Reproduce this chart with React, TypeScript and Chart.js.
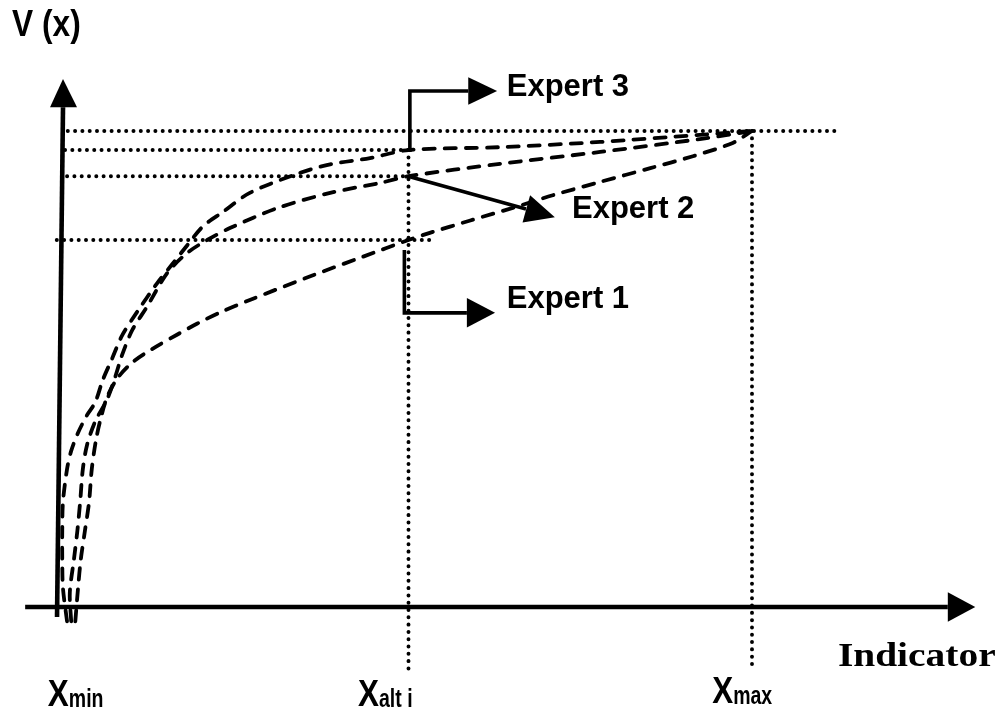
import React, { useEffect, useRef } from "react";
import { Chart, registerables } from "chart.js";

Chart.register(...registerables);

// Indicator scale: Xmin = 0, Xalt i = 50, Xmax = 100.  Value V(x): 0 on the indicator axis, 1 at the top level.
const tickValues = [0, 50, 100];
const tickMain = ["X", "X", "X"];
const tickSub = ["min", "alt i", "max"];

const expertNames = ["Expert 1", "Expert 2", "Expert 3"];

const expert1X = [1.5, 1.9, 2.3, 2.9, 3.5, 3.9, 4.5, 5.1, 6.1, 7.6, 9.9, 12.8, 16.3, 19.2, 22.6, 26.9, 36.1, 43.4, 50, 53.1, 59.0, 66.2, 71.0, 77.9, 85.2, 91.4, 97.2, 100];
const expert1V = [-0.03, 0.04, 0.1, 0.16, 0.22, 0.29, 0.35, 0.39, 0.44, 0.48, 0.515, 0.543, 0.572, 0.595, 0.619, 0.645, 0.697, 0.736, 0.771, 0.786, 0.812, 0.843, 0.865, 0.893, 0.922, 0.947, 0.975, 1.0];

const expert2X = [0.9, 0.7, 1.3, 1.8, 2.2, 2.6, 3.2, 4.4, 6.1, 7.3, 8.3, 9.8, 11.9, 14.9, 17.8, 20.7, 24.0, 30.9, 38.6, 45.9, 50, 63.3, 77.9, 92.4, 100];
const expert2V = [-0.03, 0.03, 0.1, 0.16, 0.22, 0.29, 0.34, 0.39, 0.435, 0.483, 0.529, 0.582, 0.63, 0.702, 0.744, 0.771, 0.796, 0.838, 0.87, 0.891, 0.905, 0.931, 0.956, 0.983, 1.0];

const expert3X = [0.3, -0.3, -0.4, -0.4, -0.3, 0.3, 0.9, 1.9, 3.2, 4.4, 5.5, 6.8, 8.3, 10.5, 13.4, 15.6, 17.8, 20.1, 23.0, 26.9, 33.8, 38.6, 44.4, 50, 63.3, 77.9, 92.4, 100];
const expert3V = [-0.03, 0.04, 0.1, 0.16, 0.22, 0.29, 0.328, 0.366, 0.403, 0.43, 0.477, 0.52, 0.57, 0.62, 0.68, 0.72, 0.76, 0.8, 0.83, 0.87, 0.91, 0.93, 0.943, 0.96, 0.966, 0.977, 0.992, 1.0];

// dotted reference levels (horizontal)
const levelV = [1.0, 0.96, 0.905, 0.771];
const levelFrom = [0.4, 0, 0.3, -1.2];
const levelTo = [112, 50, 50, 53.1];

// dotted drop lines (vertical) at Xalt i and Xmax
const dropX = [50, 100];
const dropTop = [0.96, 1.0];
const dropBottom = [-0.139, -0.128];

// axes
const vAxisX = [-1.16, -0.29];
const vAxisV = [-0.021, 1.05];
const vAxisHeadX = [-0.29, -2.18, 1.75];
const vAxisHeadV = [1.109, 1.05, 1.05];
const indAxisX = [-5.8, 128.5];
const indAxisV = [0, 0];
const indAxisHeadX = [132.5, 128.5, 128.5];
const indAxisHeadV = [0, 0.031, -0.031];

// expert callout arrows
const arrow3X = [50.2, 50.2, 58.7];
const arrow3V = [0.956, 1.084, 1.084];
const head3X = [62.9, 58.7, 58.7];
const head3V = [1.084, 1.113, 1.055];
const arrow2X = [49.93, 67.1];
const arrow2V = [0.905, 0.836];
const head2X = [71.3, 67.7, 66.6];
const head2V = [0.819, 0.865, 0.808];
const arrow1X = [49.4, 49.4, 58.5];
const arrow1V = [0.75, 0.618, 0.618];
const head1X = [62.6, 58.5, 58.5];
const head1V = [0.618, 0.649, 0.587];

const pts = (xs: number[], vs: number[]) => xs.map((x, i) => ({ x, y: vs[i] }));

const SANS = '"Liberation Sans", Arial, Helvetica, sans-serif';
const SERIF = '"Liberation Serif", "Times New Roman", serif';

const diagramPlugin = {
  id: "diagram",
  afterDatasetsDraw(chart: any) {
    const { ctx } = chart;
    const sx = chart.scales.x;
    const sy = chart.scales.y;
    const px = (v: number) => sx.getPixelForValue(v);
    const py = (v: number) => sy.getPixelForValue(v);

    const heads = [
      [vAxisHeadX, vAxisHeadV],
      [indAxisHeadX, indAxisHeadV],
      [head1X, head1V],
      [head2X, head2V],
      [head3X, head3V],
    ];
    ctx.save();
    ctx.fillStyle = "#000";
    heads.forEach(([xs, vs]) => {
      ctx.beginPath();
      xs.forEach((x: number, i: number) => {
        if (i === 0) ctx.moveTo(px(x), py(vs[i]));
        else ctx.lineTo(px(x), py(vs[i]));
      });
      ctx.closePath();
      ctx.fill();
    });

    const text = (s: string, x: number, v: number, font: string, scaleX = 1) => {
      ctx.save();
      ctx.font = font;
      ctx.textAlign = "left";
      ctx.textBaseline = "alphabetic";
      ctx.translate(px(x), py(v));
      ctx.scale(scaleX, 1);
      ctx.fillText(s, 0, 0);
      ctx.restore();
    };

    text("V (x)", -7.7, 1.2, `bold 36px ${SANS}`, 0.88);
    text(expertNames[2], 64.3, 1.0735, `bold 31px ${SANS}`);
    text(expertNames[1], 73.8, 0.817, `bold 31px ${SANS}`);
    text(expertNames[0], 64.3, 0.628, `bold 31px ${SANS}`);
    text("Indicator", 112.5, -0.124, `bold 34px ${SERIF}`, 1.16);

    const tickLeftOffset = [-2.5, -7.35, -5.8];
    const tickBase = [-0.208, -0.208, -0.202];
    tickValues.forEach((t, i) => {
      const left = t + tickLeftOffset[i];
      ctx.save();
      ctx.font = `bold 37px ${SANS}`;
      const mainW = ctx.measureText(tickMain[i]).width * 0.85;
      ctx.restore();
      text(tickMain[i], left, tickBase[i], `bold 37px ${SANS}`, 0.85);
      ctx.save();
      ctx.font = `bold 25px ${SANS}`;
      ctx.textBaseline = "alphabetic";
      ctx.translate(px(left) + mainW, py(tickBase[i]) + 1);
      ctx.scale(0.78, 1);
      ctx.fillText(tickSub[i], 0, 0);
      ctx.restore();
    });
    ctx.restore();
  },
};

export default function App() {
  const ref = useRef<HTMLCanvasElement | null>(null);

  useEffect(() => {
    if (!ref.current) return;
    const solid = (data: any, width: number) => ({
      data,
      showLine: true,
      pointRadius: 0,
      borderColor: "#000",
      backgroundColor: "#000",
      borderWidth: width,
      borderCapStyle: "butt",
      fill: false,
      tension: 0,
    });
    const dotted = (data: any) => ({
      data,
      showLine: true,
      pointRadius: 0,
      borderColor: "#000",
      borderWidth: 3.9,
      borderDash: [0.1, 7.2],
      borderCapStyle: "round",
      fill: false,
      tension: 0,
    });
    const dashed = (label: string, data: any) => ({
      label,
      data,
      showLine: true,
      pointRadius: 0,
      borderColor: "#000",
      borderWidth: 3.8,
      borderDash: [11, 10],
      borderCapStyle: "round",
      fill: false,
      tension: 0.3,
    });

    const datasets: any[] = [];
    levelV.forEach((v, i) => datasets.push(dotted([{ x: levelFrom[i], y: v }, { x: levelTo[i], y: v }])));
    dropX.forEach((x, i) => datasets.push(dotted([{ x, y: dropTop[i] }, { x, y: dropBottom[i] }])));
    datasets.push(dashed(expertNames[0], pts(expert1X, expert1V)));
    datasets.push(dashed(expertNames[1], pts(expert2X, expert2V)));
    datasets.push(dashed(expertNames[2], pts(expert3X, expert3V)));
    datasets.push(solid(pts(vAxisX, vAxisV), 4.6));
    datasets.push(solid(pts(indAxisX, indAxisV), 4.6));
    datasets.push(solid(pts(arrow1X, arrow1V), 3.6));
    datasets.push(solid(pts(arrow2X, arrow2V), 3.6));
    datasets.push(solid(pts(arrow3X, arrow3V), 3.6));

    const chart = new Chart(ref.current, {
      type: "scatter",
      data: { datasets },
      options: {
        animation: false,
        responsive: false,
        events: [],
        layout: { padding: 0 },
        plugins: { legend: { display: false }, tooltip: { enabled: false } },
        scales: {
          x: { type: "linear", display: false, min: -65 / 6.87, max: 935 / 6.87, bounds: "data" },
          y: { type: "linear", display: false, min: -108 / 476, max: 607 / 476, bounds: "data" },
        },
      },
      plugins: [diagramPlugin],
    } as any);
    return () => chart.destroy();
  }, []);

  return (
    <div style={{ position: "absolute", left: 0, top: 0, width: 1000, height: 715, background: "#fff" }}>
      <canvas ref={ref} width={1000} height={715} style={{ display: "block" }} />
    </div>
  );
}
